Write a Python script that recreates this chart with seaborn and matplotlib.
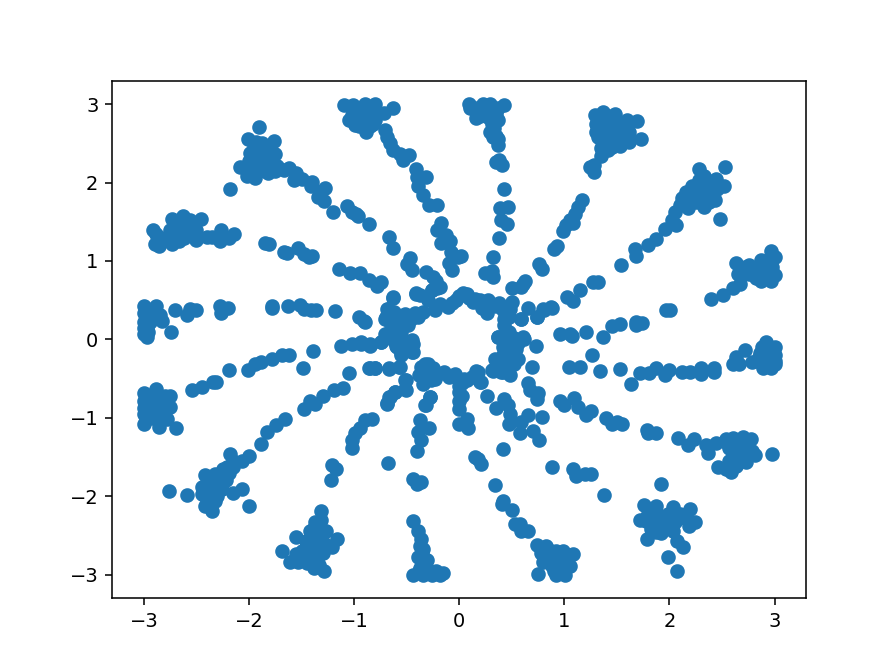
import pandas as pd
import matplotlib
matplotlib.use('Agg')
import matplotlib.pyplot as plt
import seaborn as sns

# точки, (x, y) по лучам спирали
top_left = [(-1.10,2.99),(-1.01,2.99),(-0.90,3.0),(-0.80,3.0),(-0.63,2.95),(-0.72,2.89),(-1.05,2.80),(-0.99,2.73),
            (-0.89,2.65),(-0.82,2.75),(-0.94,2.88),(-0.86,2.84),(-0.96,2.80),(-0.90,2.75),(-1.02,2.86),(-0.80,2.86),
            (-0.93,2.95),(-0.71,2.67),(-0.69,2.58),(-0.66,2.50),(-0.63,2.42),(-0.56,2.37),(-0.53,2.29),(-0.48,2.35),
            (-0.41,2.17),(-0.32,2.07),(-0.40,2.07),(-0.39,1.95),(-0.34,1.84),(-0.29,1.71),(-0.21,1.71),(-0.17,1.49),
            (-0.21,1.39),(-0.13,1.33),(-0.17,1.23),(-0.09,1.26),(-0.08,1.12),(-0.01,1.05),(-0.10,0.97),(-0.07,0.89),
            (-1.0,2.9),(-0.85,2.93),(-0.95,2.72),(-0.85,2.72),(-0.92,2.85),(-0.8,2.8)]
upper_left = [(-1.90,2.71),(-2.01,2.56),(-1.76,2.53),(-1.93,2.52),(-1.88,2.50),(-1.99,2.38),(-1.91,2.39),(-1.75,2.37),
              (-1.81,2.35),(-2.09,2.20),(-2.02,2.09),(-1.94,2.06),(-1.82,2.12),(-1.94,2.29),(-1.86,2.26),(-1.78,2.26),
              (-1.97,2.20),(-1.89,2.18),(-1.81,2.22),(-1.73,2.21),(-2.00,2.28),(-2.18,1.92),(-1.62,2.18),(-1.67,2.16),
              (-1.55,2.12),(-1.57,2.03),(-1.50,2.05),(-1.40,2.01),(-1.41,1.95),(-1.28,1.93),(-1.34,1.82),(-1.29,1.77),
              (-1.32,1.88),(-1.20,1.62),(-1.07,1.70),(-1.02,1.63),(-0.96,1.57),(-0.98,1.60),(-0.86,1.47),(-0.67,1.31),
              (-0.63,1.16),(-0.47,1.04),(-0.50,0.96),(-0.45,0.88),(-0.32,0.86),(-0.25,0.80),(-0.21,0.65),(-0.26,0.63),
              (-0.18,0.67),(-1.95,2.45),(-1.85,2.4),(-1.9,2.3),(-1.85,2.15),(-1.95,2.15),(-2.0,2.15),(-1.75,2.15),
              (-1.82,2.3),(-1.9,2.45)]
left_high = [(-2.91,1.40),(-2.88,1.35),(-2.89,1.22),(-2.86,1.19),(-2.73,1.54),(-2.63,1.57),(-2.46,1.54),(-2.56,1.52),
             (-2.73,1.22),(-2.62,1.29),(-2.75,1.39),(-2.67,1.43),(-2.59,1.43),(-2.69,1.33),(-2.61,1.37),(-2.53,1.46),
             (-2.50,1.27),(-2.40,1.31),(-2.35,1.31),(-2.27,1.39),(-2.28,1.26),(-2.19,1.29),(-2.14,1.34),(-1.85,1.23),
             (-1.81,1.22),(-1.67,1.12),(-1.64,1.10),(-1.53,1.16),(-1.48,1.09),(-1.43,1.05),(-1.40,1.06),(-1.14,0.90),
             (-1.04,0.85),(-0.94,0.85),(-0.86,0.76),(-0.78,0.68),(-0.74,0.73),(-0.63,0.53),(-0.69,0.39),(-0.70,0.28),
             (-0.58,0.24),(-0.95,0.28),(-0.90,0.22),(-1.18,0.36),(-0.41,0.58),(-0.37,0.56),
             (-2.65,1.5),(-2.7,1.45),(-2.55,1.38),(-2.67,1.25),(-2.78,1.3),(-2.5,1.4)]
left_mid = [(-1.78,0.42),(-1.78,0.40),(-1.63,0.42),(-1.51,0.44),(-1.48,0.39),(-1.41,0.38),(-1.36,0.38),(-2.28,0.43),
            (-2.27,0.34),(-2.20,0.40),(-2.70,0.37),(-2.59,0.31),(-2.56,0.39),(-2.50,0.37),(-2.74,0.09),(-3.0,0.43),
            (-2.88,0.42),(-2.97,0.31),(-3.0,0.22),(-2.85,0.31),(-2.83,0.24),(-3.0,0.07),(-2.97,0.03),(-2.97,0.16),
            (-2.94,0.22),(-2.92,0.36),(-2.90,0.28),(-2.95,0.27),(-2.9,0.35),(-3.0,0.33),(-2.96,0.1),(-3.0,0.14)]
left_low = [(-3.0,-0.69),(-2.88,-0.63),(-2.75,-0.72),(-2.97,-0.78),(-2.88,-0.74),(-2.78,-0.82),(-3.0,-0.95),(-3.0,-1.08),
            (-2.86,-1.12),(-2.78,-1.01),(-2.69,-1.13),(-2.94,-0.89),(-2.85,-0.91),(-3.0,-0.87),(-2.92,-1.0),(-2.86,-1.03),
            (-2.75,-0.86),(-2.81,-0.74),(-2.54,-0.64),(-2.45,-0.61),(-2.34,-0.54),(-2.31,-0.54),(-2.19,-0.39),(-2.01,-0.39),
            (-1.94,-0.31),(-1.89,-0.29),(-1.78,-0.25),(-1.69,-0.20),(-1.62,-0.20),(-1.49,-0.36),(-1.39,-0.15),(-1.12,-0.08),
            (-1.02,-0.06),(-0.93,-0.06),(-0.85,-0.06),(-0.74,-0.03),(-0.59,-0.10),(-0.55,-0.20),(-0.45,-0.16),(-0.44,-0.06),
            (-1.05,-0.43),(-0.86,-0.37),(-0.80,-0.37),(-0.67,-0.38),(-0.56,-0.35),(-0.51,-0.52),(-0.51,-0.64),(-0.61,-0.67),
            (-0.67,-0.74),(-0.69,-0.82),(-2.95,-0.72),(-2.9,-0.82),(-2.8,-0.92),(-3.0,-0.78),(-2.95,-0.95),(-2.8,-0.72),(-2.98,-1.0)]
lower_left = [(-1.11,-0.62),(-1.19,-0.65),(-1.30,-0.72),(-1.42,-0.79),(-1.37,-0.83),(-1.48,-0.89),(-1.66,-1.01),(-1.74,-1.09),
              (-1.83,-1.18),(-1.89,-1.33),(-2.0,-1.49),(-2.07,-1.55),(-2.18,-1.46),(-2.15,-1.63),(-2.21,-1.63),(-2.42,-1.73),
              (-2.35,-1.80),(-2.24,-1.72),(-2.19,-1.70),(-2.45,-1.97),(-2.35,-1.93),(-2.26,-1.91),(-2.42,-2.13),(-2.35,-2.19),
              (-2.32,-2.06),(-2.38,-2.01),(-2.29,-1.82),(-2.40,-1.84),(-2.32,-1.72),(-2.22,-1.80),(-2.15,-1.96),(-2.07,-1.91),
              (-2.0,-2.13),(-2.76,-1.94),(-2.59,-1.98),(-2.33,-1.87),(-2.28,-1.9),(-2.38,-1.9),(-2.3,-2.0),(-2.4,-2.05),
              (-2.25,-1.75),(-2.15,-1.55),(-2.25,-1.65),(-2.45,-1.88),(-2.42,-1.95)]
bottom_left = [(-0.83,-1.01),(-0.90,-1.03),(-0.94,-1.13),(-0.99,-1.20),(-1.02,-1.29),(-1.02,-1.38),(-0.68,-1.58),(-1.21,-1.60),
               (-1.17,-1.65),(-1.22,-1.80),(-1.31,-2.19),(-1.31,-2.31),(-1.37,-2.33),(-1.42,-2.44),(-1.55,-2.52),(-1.69,-2.70),
               (-1.61,-2.84),(-1.55,-2.74),(-1.46,-2.57),(-1.37,-2.52),(-1.46,-2.70),(-1.37,-2.65),(-1.53,-2.84),(-1.43,-2.78),
               (-1.35,-2.80),(-1.38,-2.91),(-1.29,-2.96),(-1.21,-2.65),(-1.16,-2.55),(-1.28,-2.61),(-1.4,-2.5),(-1.45,-2.62),
               (-1.5,-2.7),(-1.4,-2.72),(-1.33,-2.45),(-1.35,-2.58),(-1.3,-2.72),(-1.45,-2.85),(-1.33,-2.88),(-1.5,-2.78),
               (-1.38,-2.4),(-1.27,-2.45)]
bottom = [(-0.44,-2.32),(-0.39,-2.45),(-0.37,-2.63),(-0.34,-2.67),(-0.39,-2.78),(-0.31,-2.81),(-0.44,-3.0),(-0.34,-3.0),
          (-0.26,-3.0),(-0.18,-3.0),(-0.15,-2.98),(-0.37,-2.91),(-0.31,-2.93),(-0.44,-1.78),(-0.40,-1.84),(-0.36,-1.82),
          (-0.37,-1.03),(-0.29,-1.13),(-0.39,-1.18),(-0.36,-1.28),(-0.40,-1.42),(-0.32,-0.84),(-0.28,-0.74),
          (-0.35,-2.72),(-0.33,-2.85),(-0.38,-2.96),(-0.28,-2.96),(-0.22,-2.96),(-0.36,-2.55)]
ring = [(-0.41,0.59),(-0.63,0.54),(-0.68,0.39),(-0.71,0.26),(-0.58,0.24),(-0.71,0.07),(-0.85,-0.08),(-0.93,-0.03),(-0.91,0.24),
        (-0.74,-0.03),(-0.60,-0.08),(-0.55,-0.18),(-0.44,-0.16),(-0.45,-0.01),(-0.55,0.09),(-0.49,0.18),(-0.39,0.29),(-0.34,0.35),
        (-0.23,0.37),(-0.30,0.50),(-0.26,0.63),(-0.22,0.75),(-0.11,0.41),(-0.03,0.50),(0.04,0.59),(0.15,0.52),(0.26,0.48),(0.26,0.33),
        (0.35,0.43),(0.42,0.37),(0.50,0.48),(0.50,0.65),(0.61,0.71),(0.43,0.18),(0.37,0.03),(0.46,-0.01),(0.62,0.01),(0.54,-0.12),
        (0.34,-0.25),(0.32,-0.40),(0.42,-0.42),(0.48,-0.45),(0.56,-0.25),(0.69,-0.35),(0.73,-0.09),(0.59,0.26),(0.65,0.40),(0.74,0.29),
        (0.80,0.39),(0.87,0.41),(-0.36,-0.35),(-0.34,-0.57),(-0.30,-0.44),(-0.23,-0.50),(-0.14,-0.42),(-0.04,-0.44),(0.07,-0.52),
        (0.16,-0.40),(0.21,-0.54),(-0.30,-0.31),(-0.33,-0.31),(0.0,-0.67),(0.0,-0.78),(0.0,-0.89),(0.07,-1.01),(-0.33,-0.84),(-0.28,-0.74),
        (-0.52,-0.52),(-0.52,-0.63),(-0.61,-0.67),(-0.69,-0.81),(-0.66,-0.74),(-0.85,-0.37),(-0.80,-0.37),(-0.67,-0.37),(-0.57,-0.35),
        (0.07,0.58),(0.13,0.48),(0.27,0.50),(0.38,0.46),(0.48,0.39),(0.37,0.03),(0.61,0.03),(0.42,-0.10),(0.53,-0.10),(0.37,-0.27),
        (0.08,-1.13),(0.0,-1.08),(0.18,-0.42),(0.20,-0.54),(0.05,-0.50),(0.31,-0.39),(0.40,-0.42),
        (-0.62,0.35),(-0.6,0.12),(-0.52,0.32),(-0.46,0.26),(-0.58,0.05),(-0.62,-0.02),(-0.52,-0.02),(-0.5,-0.12),(-0.65,0.18),
        (-0.42,0.33),(-0.18,0.45),(-0.07,0.46),(0.0,0.55),(0.09,0.53),(0.2,0.5),(0.3,0.42),(0.22,0.4),(0.47,0.28),(0.43,0.26),
        (0.47,0.1),(0.52,0.02),(0.56,-0.05),(0.42,-0.2),(0.5,-0.2),(0.45,-0.32),(0.38,-0.35),(0.52,-0.32),
        (-0.34,-0.42),(-0.27,-0.52),(-0.2,-0.44),(-0.1,-0.48),(0.0,-0.5),(0.03,-0.56),(0.12,-0.48),(-0.38,-0.45),(-0.32,-0.5),
        (0.0,-0.6),(0.03,-0.72),(-0.28,-0.4),(-0.25,-0.37)]
right_low = [(1.26,-0.20),(1.04,-0.35),(1.15,-0.35),(1.34,-0.40),(1.53,-0.38),(1.63,-0.57),(1.72,-0.43),(1.81,-0.43),(1.87,-0.37),
             (1.96,-0.45),(2.0,-0.39),(2.12,-0.41),(2.20,-0.41),(2.30,-0.44),(2.30,-0.37),(2.42,-0.37),(2.42,-0.41),(2.60,-0.32),
             (2.66,-0.32),(2.63,-0.23),(2.72,-0.13),(2.94,-0.08),(3.0,-0.10),(2.86,-0.18),(2.79,-0.29),(2.89,-0.37),(2.97,-0.37),
             (3.0,-0.31),(3.0,-0.20),(2.92,-0.27),(2.86,-0.29),(2.94,-0.16),(2.92,-0.03),
             (2.88,-0.1),(2.95,-0.25),(2.85,-0.23),(2.9,-0.33),(3.0,-0.27),(2.97,-0.14)]
lower_right = [(0.96,-0.78),(1.0,-0.84),(1.09,-0.75),(1.13,-0.86),(1.21,-0.96),(1.25,-0.91),(1.40,-1.0),(1.45,-1.08),(1.50,-1.05),
               (1.55,-1.08),(1.79,-1.16),(1.80,-1.20),(1.87,-1.20),(2.08,-1.26),(2.18,-1.35),(2.23,-1.27),(2.35,-1.35),(2.37,-1.45),
               (2.44,-1.32),(2.46,-1.63),(2.54,-1.27),(2.60,-1.26),(2.70,-1.25),(2.78,-1.27),(2.63,-1.38),(2.73,-1.38),(2.81,-1.47),
               (2.57,-1.38),(2.65,-1.50),(2.73,-1.57),(2.59,-1.69),(2.63,-1.61),(2.54,-1.65),(2.57,-1.55),(2.79,-1.42),(2.98,-1.46),
               (2.65,-1.3),(2.7,-1.32),(2.6,-1.45),(2.7,-1.45),(2.77,-1.45),(2.65,-1.58),(2.62,-1.43),(2.55,-1.32),(2.72,-1.5),
               (2.6,-1.52),(2.67,-1.38)]
bottom_right = [(0.42,-1.40),(0.15,-1.50),(0.18,-1.52),(0.21,-1.59),(0.88,-1.63),(1.08,-1.65),(1.11,-1.74),(1.20,-1.72),(1.25,-1.72),
                (1.38,-1.99),(1.92,-1.84),(0.34,-1.86),(0.42,-2.06),(0.41,-2.10),(0.50,-2.18),(0.53,-2.35),(0.58,-2.36),(0.59,-2.45),
                (0.65,-2.45),(0.74,-2.62),(0.83,-2.63),(0.99,-2.70),(1.08,-2.74),(0.80,-2.84),(0.89,-2.78),(0.99,-2.82),(1.05,-2.89),
                (0.75,-2.99),(0.92,-3.0),(1.01,-3.0),(0.88,-2.89),(0.96,-2.91),(0.78,-2.72),(0.84,-2.74),(0.92,-2.70),
                (0.9,-2.85),(0.95,-2.78),(0.85,-2.8),(1.0,-2.9),(0.97,-2.97),(0.87,-2.7),(0.8,-2.75),(1.02,-2.77),(0.9,-2.95)]
far_lower_right = [(1.76,-2.11),(1.87,-2.13),(2.03,-2.14),(2.20,-2.17),(1.72,-2.30),(1.79,-2.25),(1.91,-2.25),(1.99,-2.23),(2.10,-2.23),
                   (1.84,-2.35),(1.97,-2.33),(2.05,-2.33),(2.24,-2.33),(2.19,-2.38),(2.03,-2.44),(1.95,-2.42),(1.87,-2.46),(1.79,-2.55),
                   (2.07,-2.57),(2.13,-2.65),(1.99,-2.77),(2.07,-2.95),(1.85,-2.25),(1.93,-2.3),(2.0,-2.3),(2.08,-2.28),(1.9,-2.38),
                   (1.78,-2.32),(2.0,-2.38),(1.92,-2.47),(1.82,-2.42),(2.15,-2.28)]
inner_lower_right = [(0.26,-0.72),(0.43,-0.76),(0.35,-0.87),(0.46,-0.84),(0.48,-0.95),(0.47,-1.08),(0.58,-1.19),(0.59,-1.06),(0.65,-0.96),
                     (0.79,-0.99),(0.70,-1.17),(0.76,-1.29),(0.65,-0.56),(0.67,-0.65),(0.75,-0.68),(0.74,-0.76)]
top = [(0.09,3.0),(0.10,2.95),(0.23,3.0),(0.29,3.0),(0.43,2.99),(0.37,2.95),(0.16,2.82),(0.19,2.90),(0.27,2.90),(0.35,2.88),(0.37,2.80),
       (0.31,2.75),(0.29,2.65),(0.32,2.58),(0.37,2.48),(0.37,2.56),(0.35,2.26),(0.38,2.29),(0.41,2.22),(0.43,1.92),(0.39,1.67),(0.46,1.69),
       (0.40,1.52),(0.45,1.47),(0.38,1.29),(0.32,1.05),(0.25,0.85),(0.31,0.87),(0.32,0.80),(0.02,1.06),
       (0.15,2.95),(0.25,2.93),(0.32,2.95),(0.2,2.85),(0.28,2.82),(0.33,2.7),(0.35,2.6)]
upper_right = [(1.17,1.78),(1.13,1.69),(1.10,1.60),(1.05,1.52),(1.08,1.48),(1.02,1.46),(0.99,1.38),(0.93,1.19),(0.90,1.15),(0.76,0.96),
               (0.79,0.90),(0.63,0.75),(0.59,0.67),(1.29,2.86),(1.37,2.90),(1.48,2.88),(1.60,2.80),(1.69,2.78),(1.30,2.75),(1.40,2.78),
               (1.49,2.78),(1.32,2.58),(1.73,2.55),(1.62,2.52),(1.53,2.47),(1.62,2.65),(1.37,2.65),(1.46,2.63),(1.54,2.61),(1.40,2.50),
               (1.46,2.50),(1.35,2.44),(1.35,2.34),(1.28,2.22),(1.24,2.20),(1.28,2.14),(1.53,2.73),(1.34,2.58),
               (1.38,2.72),(1.45,2.7),(1.38,2.58),(1.42,2.42),(1.5,2.55),(1.55,2.7),(1.3,2.65),(1.42,2.85),(1.32,2.8),(1.6,2.58),(1.45,2.45)]
diagonal = [(2.53,2.20),(2.28,2.17),(2.33,2.09),(2.44,2.05),(2.52,1.95),(2.21,1.95),(2.29,1.99),(2.37,1.95),(2.22,1.84),(2.32,1.84),
            (2.40,1.84),(2.43,1.78),(2.14,1.75),(2.18,1.67),(2.33,1.69),(2.25,1.75),(2.48,1.53),(2.05,1.63),(2.02,1.52),(2.06,1.46),
            (1.96,1.41),(1.87,1.28),(1.80,1.20),(1.67,1.15),(1.68,1.06),(1.54,0.95),(1.32,0.73),(1.27,0.73),(1.15,0.63),(1.03,0.54),
            (1.08,0.49),(0.88,0.40),(0.81,0.38),(0.74,0.28),(0.59,0.26),(2.35,1.9),(2.45,1.92),(2.27,1.85),(2.12,1.8),(2.2,1.75),
            (2.3,1.75),(2.38,1.75),(2.28,2.03),(2.38,2.02),(2.16,1.88),(2.1,1.72),(2.25,1.9),(2.42,1.92),(2.35,2.0)]
right_mid = [(1.97,0.37),(2.01,0.37),(1.68,0.22),(1.74,0.21),(1.68,0.18),(1.53,0.19),(1.45,0.17),(1.21,0.09),(1.05,0.07),(0.96,0.07),
             (1.07,0.04),(1.37,0.03)]
right_high = [(2.97,1.13),(3.0,1.05),(2.87,1.01),(2.63,0.97),(2.76,0.95),(2.65,0.84),(2.76,0.84),(2.87,0.75),(2.97,0.75),(3.0,0.82),
              (2.98,0.92),(2.89,0.88),(2.82,0.90),(2.70,0.88),(2.92,0.99),(2.67,0.71),(2.60,0.65),(2.51,0.57),(2.40,0.52),
              (2.92,0.8),(2.8,0.82),(2.9,0.95),(2.95,0.85),(2.72,0.92),(2.97,1.0),(2.82,0.78),(2.87,0.85)]

arms = [top_left, upper_left, left_high, left_mid, left_low, lower_left, bottom_left, bottom, ring, right_low,
        lower_right, bottom_right, far_lower_right, inner_lower_right, top, upper_right, diagonal, right_mid, right_high]
points = pd.DataFrame([p for arm in arms for p in arm], columns=['x', 'y'])

fig, ax = plt.subplots(figsize=(6.4, 4.8), dpi=140)
sns.scatterplot(data=points, x='x', y='y', s=36, color='#1f77b4', edgecolor='face', linewidth=1.5, ax=ax)
ax.set_xlabel('')
ax.set_ylabel('')
ax.set_xlim(-3.303, 3.303)
ax.set_ylim(-3.30, 3.30)
fig.savefig('out.png', dpi=140)
